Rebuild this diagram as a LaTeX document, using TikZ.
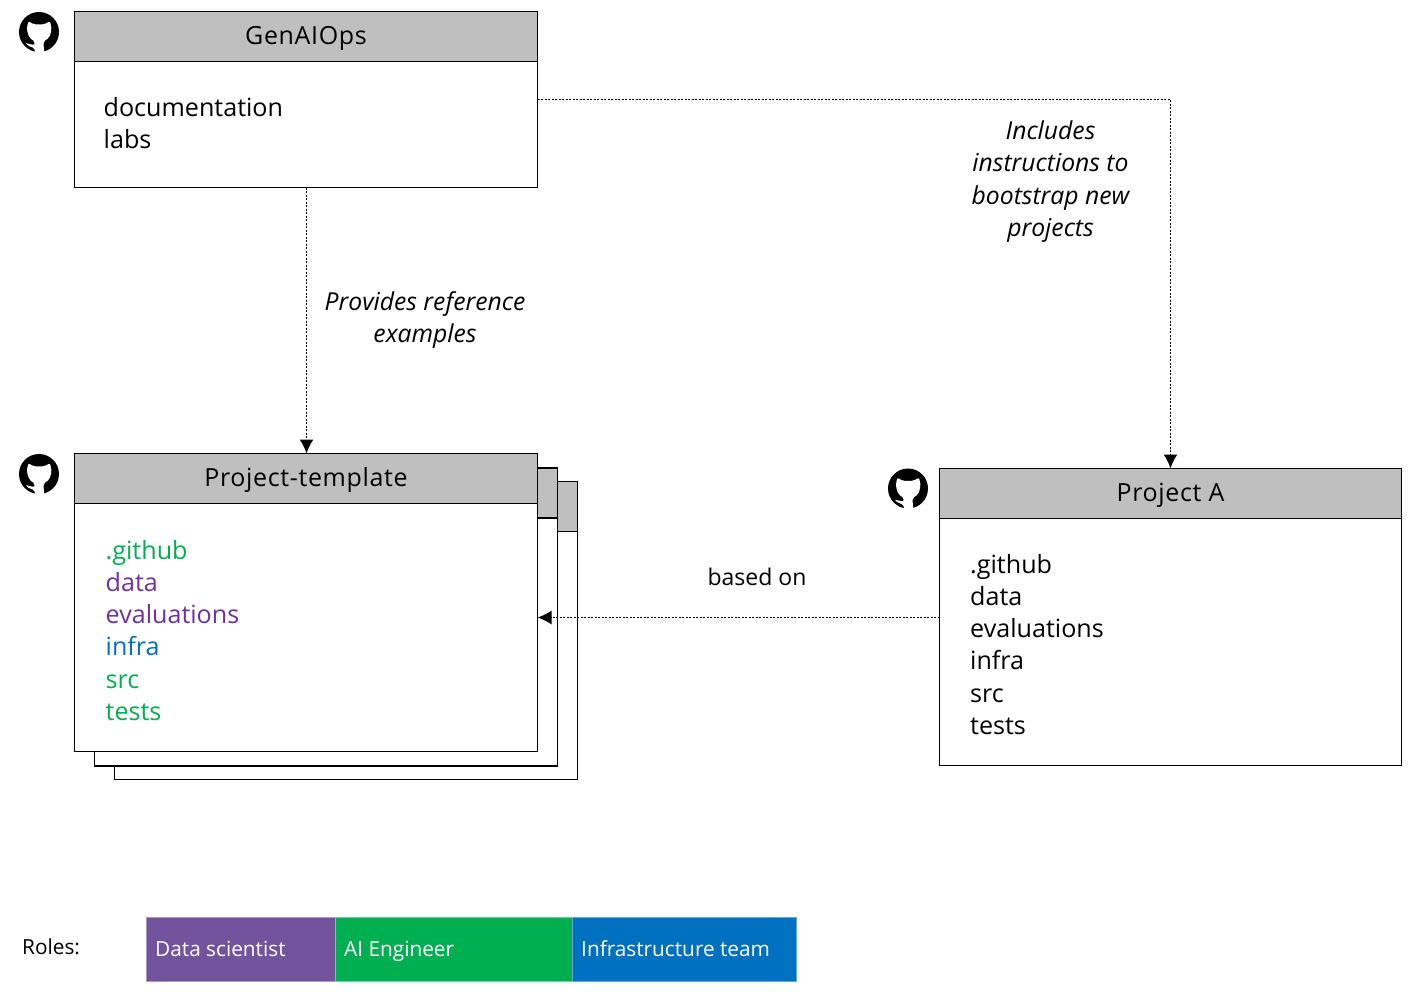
\documentclass[tikz,border=0pt]{standalone}
\usepackage{fontspec}
\setmainfont{Open Sans}
\usetikzlibrary{arrows.meta}
\definecolor{headgray}{HTML}{BFBFBF}
\definecolor{ms green}{HTML}{00B050}
\definecolor{ms purple}{HTML}{7030A0}
\definecolor{ms blue}{HTML}{0070C0}
\definecolor{bar purple}{HTML}{73539E}
\tikzset{
  x=1pt,y=-1pt,
  every node/.style={font=\fontsize{25.1}{32.2}\selectfont},
  boxframe/.style={draw=black,line width=1.9pt,fill=white,inner sep=0pt,outer sep=0pt,anchor=north west,minimum width=463pt},
  boxhead/.style={draw=black,line width=1.9pt,fill=headgray,inner sep=0pt,outer sep=0pt,anchor=north west,minimum width=463pt,minimum height=50pt,font=\addfontfeature{LetterSpace=2.6}\fontsize{25}{30}\selectfont,text height=20pt,text depth=4pt},
  listing/.style={anchor=north west,align=left,inner sep=0pt,text depth=0pt},
  flow/.style={line width=1.6pt,dash pattern=on 2pt off 1.5pt,-{Latex[length=14pt,width=14pt]}},
  caption/.style={align=center,inner sep=0pt,font=\itshape\fontsize{24.7}{32.2}\selectfont},
  rolebar/.style={draw=#1!60!white,line width=.8pt,fill=#1,inner sep=0pt,outer sep=0pt,anchor=north west,minimum height=64pt},
  roletext/.style={anchor=west,inner sep=0pt,font=\fontsize{20.8}{26}\selectfont,text height=18.5pt,text depth=4pt},
  ghicon/.pic={
    \fill[black] (0,0) circle (20);
    \fill[white,rounded corners=2pt] (-10.7,-11) -- (-5.7,-7.7) -- (5.7,-7.7) -- (11,-11) -- (12.7,-2.7) -- (10.3,5.7) -- (4.3,9.7) -- (5.3,20.5) -- (-4.3,20.5) -- (-4.3,15.7) -- (-9,15) -- (-14,10.7) -- (-9,12.3) -- (-4.3,13) -- (-4,9.7) -- (-9.7,5.7) -- (-12.3,-2.7) -- cycle;
  }
}
\begin{document}
\begin{tikzpicture}
\path[use as bounding box] (0,0) rectangle (1412,991);
% GenAIOps
\node[boxframe,minimum height=176pt] (gen) at (74.5,11.5) {};
\node[boxhead] (genhead) at (74.5,11.5) {GenAIOps};
\node[listing] (gentext) at (103.5,97) {documentation\\labs};
\pic at (39,32) {ghicon};
% template stack
\node[boxframe,minimum height=298pt] (back2) at (114.5,481.5) {};
\node[boxhead] (back2head) at (114.5,481.5) {};
\node[boxframe,minimum height=298pt] (back1) at (94.5,468) {};
\node[boxhead] (back1head) at (94.5,468) {};
\node[boxframe,minimum height=298pt] (tmpl) at (74.5,453.5) {};
\node[boxhead] (tmplhead) at (74.5,453.5) {Project-template};
\node[listing] (tmpltext) at (105.5,540) {\textcolor{ms green}{.github}\\\textcolor{ms purple}{data}\\\textcolor{ms purple}{evaluations}\\\textcolor{ms blue}{infra}\\\textcolor{ms green}{src}\\\textcolor{ms green}{tests}};
\pic at (39,474) {ghicon};
% Project A
\node[boxframe,minimum width=462pt,minimum height=297pt] (proja) at (939.5,468.5) {};
\node[boxhead,minimum width=462pt] (projahead) at (939.5,468.5) {Project A};
\node[listing] (projatext) at (970,554) {.github\\data\\evaluations\\infra\\src\\tests};
\pic at (908,488.5) {ghicon};
% connectors
\draw[flow] ([xshift=.5pt]gen.south) -- ([xshift=.5pt]tmpl.north);
\draw[flow] (gen.east) -| (proja.north);
\draw[flow] ([yshift=-.5pt]proja.west) -- ([yshift=-.5pt]proja.west -| tmpl.east);
\node[caption] (capref) at (425,320) {Provides reference\\examples};
\node[caption] (capboot) at (1050.5,181.5) {Includes\\instructions to\\bootstrap new\\projects};
\node[inner sep=0pt,font=\fontsize{23}{28}\selectfont] (capbased) at (757,577) {based on};
% roles
\node[roletext] (roles) at (22,947.5) {Roles:};
\node[rolebar=bar purple,minimum width=189pt] (r1) at (146.5,917) {};
\node[rolebar=ms green,minimum width=237pt] (r2) at (335.5,917) {};
\node[rolebar=ms blue,minimum width=224pt] (r3) at (572.5,917) {};
\node[roletext,text=white] (t1) at ([xshift=8.5pt]r1.west) {Data scientist};
\node[roletext,text=white] (t2) at ([xshift=8.5pt]r2.west) {AI Engineer};
\node[roletext,text=white] (t3) at ([xshift=8.5pt]r3.west) {Infrastructure team};
\end{tikzpicture}
\end{document}
